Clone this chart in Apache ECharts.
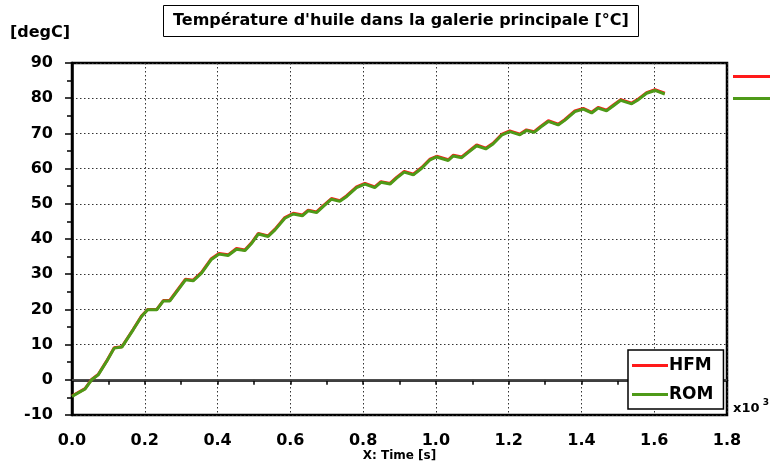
<!DOCTYPE html>
<html>
<head>
<meta charset="utf-8">
<script src="https://cdn.jsdelivr.net/npm/echarts@6/dist/echarts.min.js"></script>
<style>
  html, body { margin: 0; padding: 0; background: #fff; }
  #chart { width: 770px; height: 465px; }
</style>
</head>
<body>
<div id="chart"></div>
<script>
// Time in units of 10^3 s
const timeK = [0, 0.036, 0.054, 0.072, 0.095, 0.116, 0.137, 0.168, 0.191, 0.208,
  0.233, 0.251, 0.269, 0.292, 0.312, 0.333, 0.356, 0.382, 0.404, 0.429,
  0.452, 0.475, 0.494, 0.512, 0.539, 0.558, 0.585, 0.608, 0.633, 0.649,
  0.672, 0.690, 0.713, 0.736, 0.755, 0.782, 0.805, 0.832, 0.849, 0.874,
  0.892, 0.913, 0.938, 0.961, 0.984, 1.002, 1.034, 1.048, 1.071, 1.089,
  1.112, 1.137, 1.157, 1.182, 1.203, 1.231, 1.249, 1.270, 1.288, 1.309,
  1.336, 1.354, 1.382, 1.405, 1.428, 1.446, 1.469, 1.487, 1.508, 1.538,
  1.554, 1.579, 1.602, 1.629];

// Oil temperature in the main gallery [degC], high-fidelity model
const hfmTemp = [-4.6, -2.5, 0.1, 1.5, 5.3, 9.1, 9.4, 14.3, 18.1, 20.0,
  20.0, 22.5, 22.6, 25.8, 28.6, 28.3, 30.5, 34.3, 35.9, 35.5,
  37.3, 36.9, 39.0, 41.6, 40.9, 42.8, 46.1, 47.3, 46.8, 48.2,
  47.7, 49.4, 51.5, 50.9, 52.3, 54.8, 55.8, 54.8, 56.3, 55.8,
  57.5, 59.2, 58.4, 60.3, 62.7, 63.5, 62.5, 63.8, 63.3, 64.8,
  66.7, 65.8, 67.2, 69.8, 70.7, 69.8, 71.0, 70.5, 72.0, 73.6,
  72.6, 73.9, 76.4, 77.1, 76.0, 77.4, 76.6, 78.0, 79.6, 78.6,
  79.6, 81.6, 82.4, 81.4];

// Oil temperature in the main gallery [degC], reduced-order model
const romTemp = [-4.7, -2.6, 0.0, 1.4, 5.2, 9.0, 9.3, 14.2, 18.0, 19.9,
  19.9, 22.4, 22.4, 25.6, 28.4, 28.1, 30.3, 34.1, 35.7, 35.3,
  37.1, 36.7, 38.8, 41.4, 40.7, 42.6, 45.9, 47.1, 46.6, 48.0,
  47.5, 49.2, 51.3, 50.7, 52.1, 54.6, 55.6, 54.6, 56.1, 55.6,
  57.3, 59.0, 58.2, 60.1, 62.5, 63.3, 62.3, 63.6, 63.1, 64.6,
  66.5, 65.6, 67.0, 69.6, 70.5, 69.6, 70.8, 70.3, 71.8, 73.4,
  72.4, 73.7, 76.2, 76.9, 75.8, 77.2, 76.4, 77.8, 79.4, 78.4,
  79.4, 81.4, 82.2, 81.2];

const seriesNames = ['HFM', 'ROM'];
const seriesColors = ['#ff1a1a', '#4e9a18'];

const FONT = "'DejaVu Sans', sans-serif";

const pairs = (xs, ys) => xs.map((x, i) => [x, ys[i]]);

const chart = echarts.init(document.getElementById('chart'), null, { renderer: 'canvas' });

chart.setOption({
  animation: false,
  backgroundColor: '#fff',
  color: seriesColors,
  title: {
    text: "Température d'huile dans la galerie principale [°C]",
    left: 163,
    top: 5,
    padding: [8, 10],
    borderColor: '#000',
    borderWidth: 1,
    textStyle: { fontFamily: FONT, fontWeight: 'bold', fontSize: 16, color: '#000' }
  },
  grid: {
    left: 72, right: 43, top: 63, bottom: 50,
    containLabel: false,
    outerBoundsMode: 'none',
    show: true, borderColor: '#000', borderWidth: 2.5, backgroundColor: '#fff'
  },
  legend: [{
    data: seriesNames,
    orient: 'vertical',
    left: 628,
    top: 350,
    padding: [7, 10, 6, 4],
    itemGap: 12,
    itemWidth: 36,
    itemHeight: 3,
    icon: 'rect',
    backgroundColor: '#fff',
    borderColor: '#000',
    borderWidth: 1.5,
    selectedMode: false,
    textStyle: { fontFamily: FONT, fontWeight: 'bold', fontSize: 17, color: '#000', padding: [0, 0, 0, -4] }
  }, {
    data: seriesNames,
    orient: 'vertical',
    left: 733,
    top: 75,
    padding: 0,
    itemGap: 19,
    itemWidth: 37,
    itemHeight: 3,
    icon: 'rect',
    selectedMode: false,
    formatter: () => '',
    textStyle: { fontSize: 1 }
  }],
  xAxis: {
    type: 'value',
    min: 0, max: 1.8, interval: 0.2,
    name: 'X: Time [s]',
    nameLocation: 'middle',
    nameGap: 34,
    nameMoveOverlap: false,
    nameTextStyle: {
      fontFamily: FONT, fontWeight: 'bold', fontSize: 12, color: '#000',
      backgroundColor: '#fff', padding: [1, 4, 0, 4]
    },
    axisLine: { show: true, lineStyle: { color: '#000', width: 2.5 } },
    axisTick: { show: true, length: 5, lineStyle: { color: '#000', width: 1.5 } },
    minorTick: { show: true, splitNumber: 2, length: 5, lineStyle: { color: '#000', width: 1.5 } },
    axisLabel: {
      margin: 18,
      formatter: v => v.toFixed(1),
      fontFamily: FONT, fontWeight: 'bold', fontSize: 16, color: '#000'
    },
    splitLine: { show: true, lineStyle: { color: '#333', width: 1, type: [1.5, 2.5] } }
  },
  yAxis: {
    type: 'value',
    min: -10, max: 90, interval: 10,
    axisLine: { show: true, lineStyle: { color: '#000', width: 2.5 } },
    axisTick: { show: true, length: 7, lineStyle: { color: '#000', width: 1.5 } },
    minorTick: { show: true, splitNumber: 2, length: 5, lineStyle: { color: '#000', width: 1.5 } },
    axisLabel: {
      margin: 19,
      fontFamily: FONT, fontWeight: 'bold', fontSize: 16, color: '#000'
    },
    splitLine: { show: true, lineStyle: { color: '#333', width: 1, type: [1.5, 2.5] } }
  },
  graphic: [{
    type: 'text',
    left: 10,
    top: 25,
    style: { text: '[degC]', font: 'bold 16px ' + FONT, fill: '#000' }
  }, {
    type: 'text',
    left: 733,
    top: 398,
    style: {
      text: '{b|x10} {s|3}',
      rich: {
        b: { font: 'bold 13px ' + FONT, fill: '#000', verticalAlign: 'bottom' },
        s: { font: 'bold 9px ' + FONT, fill: '#000', verticalAlign: 'top', padding: [0, 0, 8, 0] }
      }
    }
  }],
  series: [{
    name: 'HFM',
    type: 'line',
    data: pairs(timeK, hfmTemp),
    showSymbol: false,
    symbol: 'none',
    lineStyle: { width: 3, color: seriesColors[0] },
    z: 3,
    markLine: {
      silent: true,
      symbol: 'none',
      label: { show: false },
      lineStyle: { color: '#555', width: 1.5, type: 'solid' },
      data: [{ yAxis: 0 }],
      z: 1
    }
  }, {
    name: 'ROM',
    type: 'line',
    data: pairs(timeK, romTemp),
    showSymbol: false,
    symbol: 'none',
    lineStyle: { width: 3, color: seriesColors[1] },
    z: 4
  }]
});
</script>
</body>
</html>
